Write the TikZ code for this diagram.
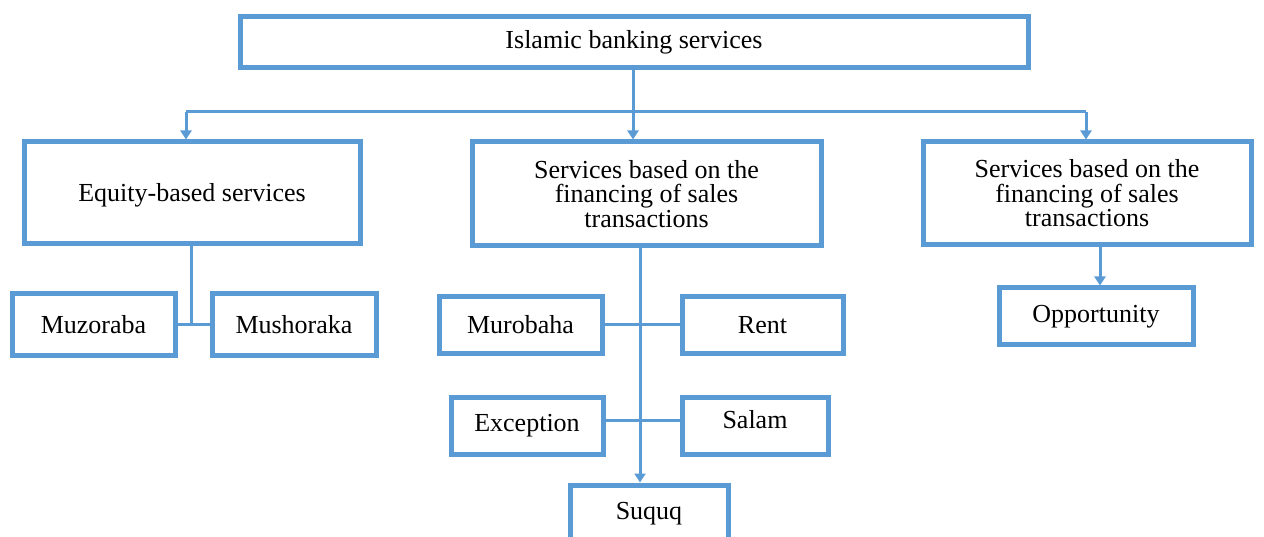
\documentclass[tikz,border=0pt]{standalone}
\usepackage{fontspec}
\setmainfont{Liberation Serif}
\usetikzlibrary{arrows.meta}
\definecolor{bl}{HTML}{5B9BD5}
\begin{document}
\begin{tikzpicture}[x=1pt,y=-1pt,
  box/.style={draw=bl,line width=5pt,rectangle,inner sep=0pt,align=center,
    font=\fontsize{26}{24.5}\selectfont},
  conn/.style={draw=bl,line width=3pt},
  arr/.style={conn,-{Triangle[width=11pt,length=9pt]}}]
\useasboundingbox (0,0) rectangle (1264,537);
\clip (0,0) rectangle (1264,537);
\node[box,minimum width=788pt,minimum height=51pt] (top) at (634,42.5) {Islamic banking services};
\node[box,minimum width=336pt,minimum height=102pt] (A) at (192,193) {\raisebox{-2pt}[\height][\depth]{Equity-based services}};
\node[box,minimum width=349pt,minimum height=104pt] (B) at (646.5,194) {Services based on the\\financing of sales\\transactions};
\node[box,minimum width=328pt,minimum height=103pt] (C) at (1087,193.5) {Services based on the\\financing of sales\\transactions};
\node[box,minimum width=163pt,minimum height=62pt] (muz) at (93.5,325) {Muzoraba};
\node[box,minimum width=164pt,minimum height=62pt] (mus) at (294,325) {Mushoraka};
\node[box,minimum width=163pt,minimum height=57pt] (mur) at (520.5,325) {Murobaha};
\node[box,minimum width=161pt,minimum height=57pt] (rent) at (762.5,325) {Rent};
\node[box,minimum width=152pt,minimum height=57pt] (exc) at (527,426) {Exception};
\node[box,minimum width=146pt,minimum height=57pt] (sal) at (755,426) {\raisebox{6pt}[\height][\depth]{Salam}};
\node[box,minimum width=158pt,minimum height=58pt] (suq) at (649,514) {Suquq};
\node[box,minimum width=194pt,minimum height=57pt] (opp) at (1096,316.5) {Opportunity};
\coordinate (j) at (633,112);
\coordinate (hl) at (186,112);
\coordinate (hr) at (1086,112);
\draw[conn] (top.south -| j) -- (j);
\draw[conn] (hl) -- (hr);
\draw[arr] (hl) -- (hl |- A.north);
\draw[arr] (j) -- (j |- B.north);
\draw[arr] (hr) -- (hr |- C.north);
% Equity branch
\coordinate (a1) at (191,325);
\draw[conn] (a1 |- A.south) -- (a1);
\draw[conn] (muz.east) -- (mus.west);
% Middle branch
\coordinate (b1) at (640,300);
\draw[arr] (b1 |- B.south) -- (b1 |- suq.north);
\draw[conn] (mur.east) -- (rent.west);
\draw[conn] ([yshift=6pt]exc.east) -- ([yshift=6pt]exc.east -| sal.west);
% Right branch
\coordinate (c1) at (1100,300);
\draw[arr] (c1 |- C.south) -- (c1 |- opp.north);
\end{tikzpicture}
\end{document}
